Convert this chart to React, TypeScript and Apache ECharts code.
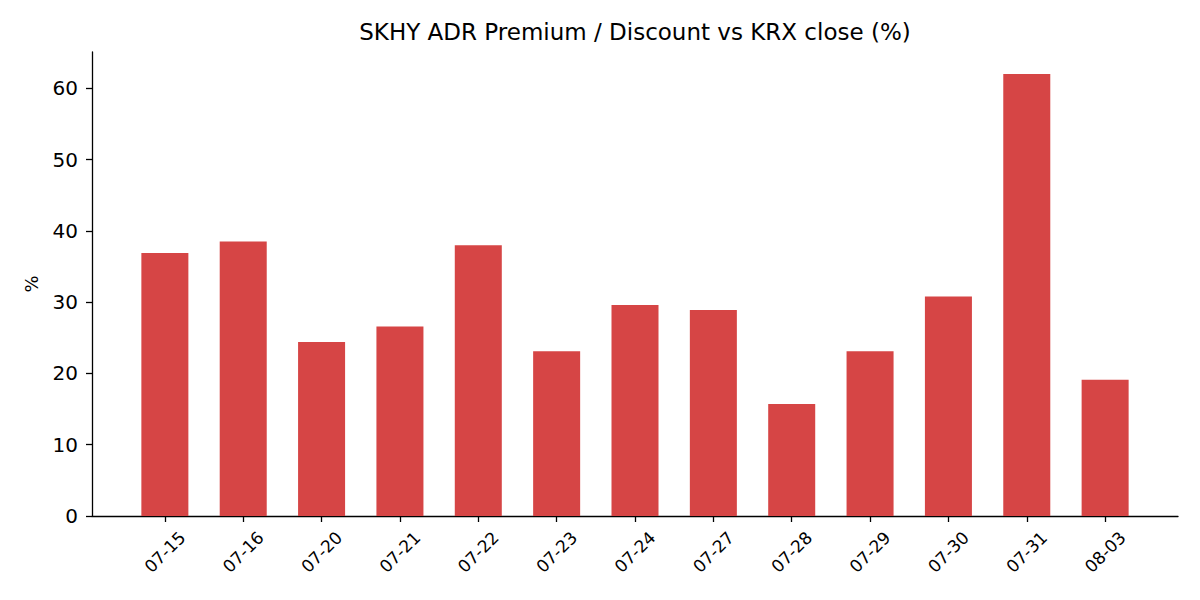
import React, { useEffect, useRef } from "react";
import * as echarts from "echarts";

const dates = ["07-15", "07-16", "07-20", "07-21", "07-22", "07-23", "07-24", "07-27", "07-28", "07-29", "07-30", "07-31", "08-03"];
const premium = [36.9, 38.5, 24.4, 26.6, 38.0, 23.1, 29.6, 28.9, 15.7, 23.1, 30.8, 62.0, 19.1];
const yTickMax = 60;
const yTickStep = 10;
const titleText = "SKHY ADR Premium / Discount vs KRX close (%)";

const FONT = "DejaVu Sans";

export default function App() {
  const ref = useRef<HTMLDivElement>(null);
  useEffect(() => {
    document.body.style.margin = "0";
    if (!ref.current) return;
    const chart = echarts.init(ref.current, null, { renderer: "svg" });
    const W = 1200;
    const gridLeft = 92;
    const gridRight = 22;
    const gridTop = 52;
    const gridBottom = 84;
    const plotH = 600 - gridTop - gridBottom;
    const gridWidth = W - gridLeft - gridRight;
    const pad = 0.93;
    const xMin = -pad;
    const xMax = dates.length - 1 + pad;
    const unit = gridWidth / (xMax - xMin);
    const barWidth = 0.6 * unit;
    const yMax = Math.max(...premium) * 1.05;
    const inset = (pad - 0.5) * unit;
    const tickGridTop = gridTop + ((yMax - yTickMax) / yMax) * plotH;
    const axisColor = "#000";
    chart.setOption({
      animation: false,
      backgroundColor: "#ffffff",
      title: {
        text: titleText,
        left: 630,
        top: 15,
        textAlign: "center",
        textStyle: { fontFamily: FONT, fontSize: 23, fontWeight: "normal", color: "#000" },
      },
      grid: [
        { left: gridLeft, right: gridRight, top: gridTop, bottom: gridBottom },
        { left: gridLeft + inset, right: gridRight + inset, top: gridTop, bottom: gridBottom },
        { left: gridLeft, right: gridRight, top: tickGridTop, bottom: gridBottom },
      ],
      xAxis: [
        {
          type: "value",
          gridIndex: 0,
          min: xMin,
          max: xMax,
          splitLine: { show: false },
          axisLine: { show: true, onZero: false, lineStyle: { color: axisColor, width: 1.3 } },
          axisTick: { show: false },
          axisLabel: { show: false },
        },
        {
          type: "category",
          gridIndex: 1,
          data: dates,
          boundaryGap: true,
          splitLine: { show: false },
          axisLine: { show: false, onZero: false },
          axisTick: { show: true, alignWithLabel: true, length: 6, lineStyle: { color: axisColor, width: 1.3 } },
          axisLabel: {
            interval: 0,
            rotate: 45,
            align: "center",
            verticalAlign: "middle",
            margin: 36,
            fontFamily: FONT,
            fontSize: 17,
            color: "#000",
          },
        },
        {
          type: "value",
          gridIndex: 2,
          min: xMin,
          max: xMax,
          show: false,
        },
      ],
      yAxis: [
        {
          type: "value",
          gridIndex: 0,
          min: 0,
          max: yMax,
          name: "%",
          nameLocation: "middle",
          nameRotate: 90,
          nameGap: 52,
          nameTextStyle: { fontFamily: FONT, fontSize: 18, color: "#000" },
          splitLine: { show: false },
          axisLine: { show: true, onZero: false, lineStyle: { color: axisColor, width: 1.3 } },
          axisTick: { show: false },
          axisLabel: { show: false },
        },
        {
          type: "value",
          gridIndex: 1,
          min: 0,
          max: yMax,
          show: false,
        },
        {
          type: "value",
          gridIndex: 2,
          min: 0,
          max: yTickMax,
          interval: yTickStep,
          splitLine: { show: false },
          axisLine: { show: false, onZero: false },
          axisTick: { show: true, length: 6, lineStyle: { color: axisColor, width: 1.3 } },
          axisLabel: {
            margin: 14,
            fontFamily: FONT,
            fontSize: 20,
            color: "#000",
          },
        },
      ],
      series: [
        {
          type: "bar",
          xAxisIndex: 0,
          yAxisIndex: 0,
          data: premium.map((v, i) => [i, v]),
          barWidth,
          itemStyle: { color: "#d64545" },
        },
      ],
    });
    return () => chart.dispose();
  }, []);
  return <div ref={ref} style={{ width: 1200, height: 600 }} />;
}
